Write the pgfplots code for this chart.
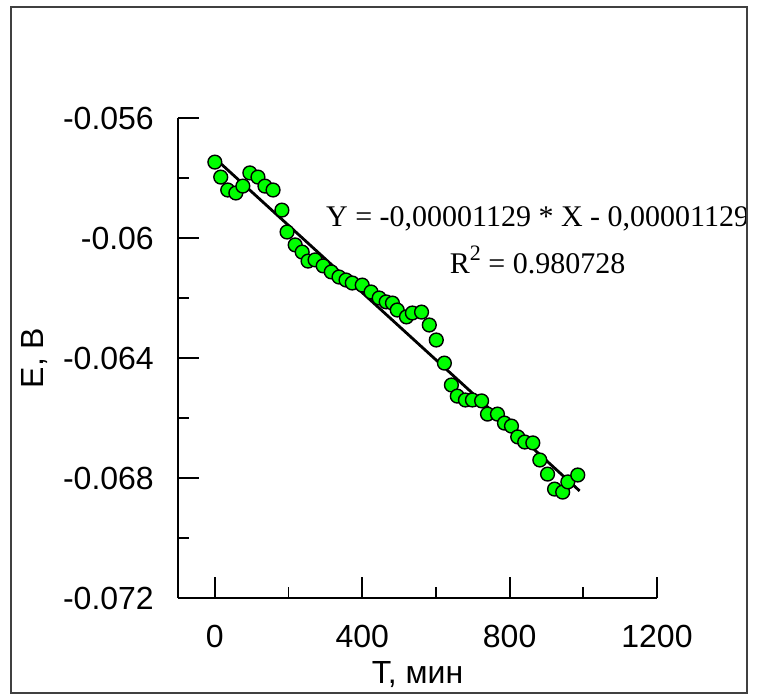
\documentclass[border=0pt]{standalone}
\usepackage{fontspec}
\setmainfont{Liberation Sans}
\newfontfamily\seriffont{Liberation Serif}
\usepackage{pgfplots}
\pgfplotsset{compat=1.18}
\definecolor{ptgreen}{RGB}{0,255,0}
\begin{document}
\begin{tikzpicture}
\begin{axis}[
 scale only axis, width=479bp, height=480bp,
 xmin=-100, xmax=1200, ymin=-0.072, ymax=-0.056,
 scaled x ticks=false, scaled y ticks=false,
 axis x line=bottom, axis y line=left,
 axis line style={-, line width=1.8bp, black},
 tick align=inside,
 major tick length=21bp, minor tick length=11bp,
 every tick/.style={black, line width=1.8bp},
 xtick={0,400,800,1200}, xticklabels={0,400,800,1200},
 minor xtick={200,600,1000},
 ytick={-0.072,-0.068,-0.064,-0.06,-0.056},
 yticklabels={{-0.072},{-0.068},{-0.064},{-0.06},{-0.056}},
 minor ytick={-0.070,-0.066,-0.062,-0.058},
 tick label style={font=\fontsize{32bp}{38bp}\selectfont, inner sep=0pt},
 yticklabel style={anchor=east, xshift=-24bp},
 xticklabel style={anchor=north, yshift=-27bp},
 label style={font=\fontsize{32bp}{38bp}\selectfont},
 xlabel={T, мин},
 ylabel={E, В},
 xlabel style={at={(axis description cs:0.5,-0.1771)}, anchor=base, inner sep=0pt},
 ylabel style={at={(axis description cs:-0.2818,0.5)}, anchor=base, inner sep=0pt},
 clip=false,
]
\addplot[only marks, mark=*, mark size=6.9bp, mark options={fill=ptgreen, draw=black, line width=1.4bp}] coordinates {
(0,-0.05747) (16,-0.05797) (35,-0.0584) (57,-0.0585) (76,-0.05827)
(95,-0.05783) (117,-0.05797) (136,-0.05827) (158,-0.0584) (182,-0.05907)
(196,-0.0598) (218,-0.06023) (237,-0.06047) (253,-0.06077) (272,-0.06073)
(294,-0.06093) (316,-0.06113) (337,-0.0613) (356,-0.0614) (373,-0.0615)
(400,-0.06157) (424,-0.0618) (446,-0.062) (465,-0.06213) (482,-0.06217)
(495,-0.0624) (520,-0.06263) (536,-0.0625) (561,-0.06247) (582,-0.0629)
(601,-0.0634) (623,-0.06417) (642,-0.0649) (658,-0.06527) (680,-0.0654)
(699,-0.0654) (724,-0.06543) (740,-0.06587) (767,-0.06587) (786,-0.06617)
(805,-0.06627) (822,-0.06663) (841,-0.0668) (863,-0.06683) (882,-0.0674)
(903,-0.06787) (922,-0.06837) (944,-0.06847) (958,-0.06813) (985,-0.0679)
};
\addplot[black, line width=2.8bp, no marks] coordinates {(0,-0.05734) (990,-0.06843)};
\node[anchor=base, inner sep=0pt, font=\seriffont\fontsize{30bp}{36bp}\selectfont] at (axis cs:876,-0.05963) {Y = -0,00001129 * X - 0,00001129};
\node[anchor=base, inner sep=0pt, font=\seriffont\fontsize{30bp}{36bp}\selectfont] at (axis cs:876,-0.06117) {R\raisebox{0.42em}{\fontsize{22bp}{22bp}\selectfont 2} = 0.980728};
\end{axis}
\draw[line width=2bp, black!75] (-167bp,-95bp) rectangle (569bp,591bp);
\pgfresetboundingbox
\path[use as bounding box] (-178bp,-97bp) rectangle (579bp,598bp);
\end{tikzpicture}
\end{document}
